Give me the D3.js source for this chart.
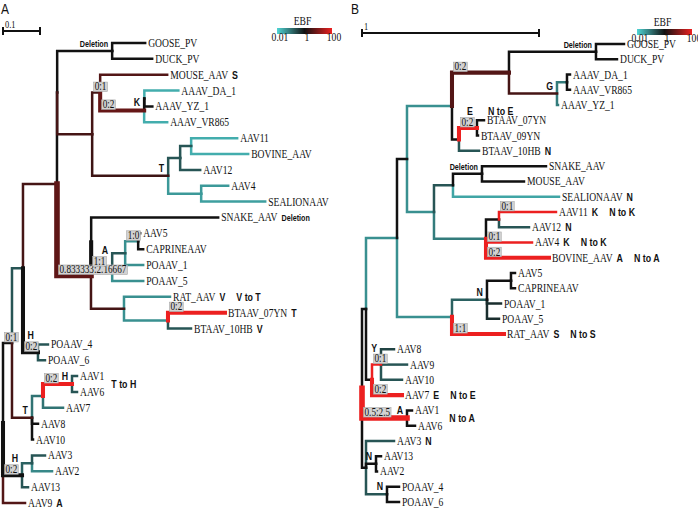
<!DOCTYPE html>
<html>
<head>
<meta charset="utf-8">
<script src="https://cdn.jsdelivr.net/npm/d3@7/dist/d3.min.js"></script>
<style>
body { margin: 0; background: #fff; }
svg { display: block; }
</style>
</head>
<body>
<script>
// tree A : [node, parent, branch length, EBF]
var treeA = [
    ["rootA", "", 0, 1],
    ["L1", "rootA", 0.0243, 1],
    ["N23", "L1", 0.0297, 0.2],
    ["X", "N23", 0.0919, 3],
    ["X3", "X", 0.0005, 1],
    ["gooseA", "X3", 0.1486, 1],
    ["GOOSE_PV", "gooseA", 0.0892, 1],
    ["DUCK_PV", "gooseA", 0.1081, 1],
    ["nA92", "X3", 0.0946, 3],
    ["M", "nA92", 0.0216, 3],
    ["MOUSE_AAV", "M", 0.1811, 4],
    ["K", "M", 0.1189, 6],
    ["K2", "K", 0.0005, 1],
    ["AAAV_DA_1", "K2", 0.0919, 0.025],
    ["AAAV_YZ_1", "K2", 0.0216, 1],
    ["AAAV_VR865", "K", 0.0622, 0.025],
    ["TA", "nA92", 0.2054, 2.5],
    ["nA180", "TA", 0.0324, 0.2],
    ["nA191", "nA180", 0.0297, 0.2],
    ["AAV11", "nA191", 0.1243, 0.025],
    ["BOVINE_AAV", "nA191", 0.1541, 0.025],
    ["AAV12", "nA180", 0.0541, 0.2],
    ["nA201", "TA", 0.0892, 0.04],
    ["AAV4", "nA201", 0.073, 0.04],
    ["SEALIONAAV", "nA201", 0.173, 0.035],
    ["nA91", "X", 0.0919, 5],
    ["nA91c", "nA91", 0.0005, 1],
    ["SNAKE_AAV", "nA91c", 0.3432, 1],
    ["cladeA", "nA91c", 0.0568, 1],
    ["nA125", "cladeA", 0.0351, 0.2],
    ["nA138", "nA125", 0.0351, 0.05],
    ["AAV5", "nA138", 0.0054, 1],
    ["CAPRINEAAV", "nA138", 0.0135, 1],
    ["POAAV_1", "nA125", 0.0486, 0.05],
    ["POAAV_5", "cladeA", 0.0838, 0.05],
    ["nA124", "nA91", 0.0892, 3],
    ["RAT_AAV", "nA124", 0.1243, 0.05],
    ["nA168", "nA124", 0.1189, 0.05],
    ["BTAAV_07YN", "nA168", 0.1541, 100],
    ["BTAAV_10HB", "nA168", 0.0622, 0.2],
    ["nA38", "N23", 0.0405, 1],
    ["POAAV_4", "nA38", 0.027, 0.2],
    ["POAAV_6", "nA38", 0.0189, 0.2],
    ["TL", "L1", 0.0541, 3],
    ["nA43", "TL", 0.0297, 0.1],
    ["nA72", "nA43", 0.0784, 100],
    ["AAV1", "nA72", 0.0135, 0.2],
    ["AAV6", "nA72", 0.0135, 0.2],
    ["AAV7", "nA43", 0.0541, 0.1],
    ["AAV8", "TL", 0.0162, 1],
    ["AAV10", "TL", 0.0027, 1],
    ["HA", "rootA", 0.0514, 1],
    ["nA32", "HA", 0.027, 0.15],
    ["AAV3", "nA32", 0.0351, 0.2],
    ["AAV2", "nA32", 0.0541, 0.06],
    ["AAV13", "HA", 0.0162, 0.2],
    ["AAV9", "rootA", 0.0595, 4]
];

// branch boxes (a:b counts) for tree A
var boxesA = [["L1", "0:1"], ["M", "0:1"], ["K", "0:2"], ["nA91", "0.833333:2.16667"],
    ["cladeA", "1:1"], ["nA138", "1:0"], ["BTAAV_07YN", "0:2"], ["nA38", "0:2"],
    ["nA72", "0:2"], ["HA", "0:2"]];
var cladeTagsA = [["gooseA", "Deletion"], ["K", "K"], ["TA", "T"], ["cladeA", "A"],
    ["nA38", "H"], ["nA72", "H"], ["TL", "T"], ["HA", "H"]];
var tipTagsA = [["MOUSE_AAV", "S"], ["SNAKE_AAV", "Deletion"], ["RAT_AAV", "V"],
    ["BTAAV_07YN", "T"], ["BTAAV_10HB", "V"], ["AAV9", "A"]];
var changeTagsA = [["RAT_AAV", "V to T", "tip"], ["nA72", "T to H", "side"]];

// tree B : [node, parent, branch length, EBF]
var treeB = [
    ["rootB", "", 0, 1],
    ["nB366", "rootB", 0.0226, 1],
    ["nB397", "nB366", 0.1751, 0.05],
    ["nB407", "nB397", 0.0565, 1],
    ["nB452", "nB407", 0.2542, 0.05],
    ["nB509", "nB452", 0.322, 4],
    ["gooseB", "nB509", 0.4915, 1],
    ["GOOSE_PV", "gooseB", 0.1582, 1],
    ["DUCK_PV", "gooseB", 0.1186, 1],
    ["GB", "nB509", 0.2712, 3],
    ["nB567", "GB", 0.0565, 0.08],
    ["AAAV_DA_1", "nB567", 0.0169, 1],
    ["AAAV_VR865", "nB567", 0.0169, 1],
    ["AAAV_YZ_1", "GB", 0.0056, 0.08],
    ["EB", "nB452", 0.0395, 1],
    ["nB477", "EB", 0.1017, 100],
    ["BTAAV_07YN", "nB477", 0.0395, 1],
    ["BTAAV_09YN", "nB477", 0.0056, 1],
    ["BTAAV_10HB", "EB", 0.113, 0.2],
    ["nB434", "nB407", 0.1525, 0.05],
    ["nB453", "nB434", 0.1073, 0.2],
    ["nB482", "nB453", 0.1638, 1],
    ["SNAKE_AAV", "nB482", 0.3616, 1],
    ["MOUSE_AAV", "nB482", 0.2373, 1],
    ["SEALIONAAV", "nB453", 0.5989, 0.03],
    ["nB486", "nB434", 0.2938, 0.08],
    ["nB499", "nB486", 0.0734, 1],
    ["AAV11", "nB499", 0.322, 100],
    ["AAV12", "nB499", 0.1695, 0.2],
    ["AAV4", "nB486", 0.2599, 100],
    ["BOVINE_AAV", "nB486", 0.3559, 100],
    ["nB452b", "nB397", 0.3107, 0.05],
    ["NB", "nB452b", 0.1977, 0.15],
    ["nB511", "NB", 0.1356, 1],
    ["AAV5", "nB511", 0.0226, 1],
    ["CAPRINEAAV", "nB511", 0.0226, 1],
    ["POAAV_1", "NB", 0.0791, 0.5],
    ["POAAV_5", "NB", 0.0678, 0.5],
    ["RAT_AAV", "nB452b", 0.2938, 100],
    ["nB372", "nB366", 0.0339, 1],
    ["YB", "nB372", 0.0508, 100],
    ["AAV8", "YB", 0.0734, 0.3],
    ["AAV9", "YB", 0.1469, 0.2],
    ["AAV10", "YB", 0.1186, 0.2],
    ["AAV7", "nB372", 0.1695, 100],
    ["nB407b", "rootB", 0.2542, 100],
    ["AAV1", "nB407b", 0.0282, 1],
    ["AAV6", "nB407b", 0.0452, 1],
    ["nB366b", "rootB", 0.0226, 1],
    ["AAV3", "nB366b", 0.1582, 0.2],
    ["nB376", "nB366b", 0.0565, 1],
    ["AAV13", "nB376", 0.0282, 1],
    ["AAV2", "nB376", 0.0056, 1],
    ["nB387", "nB366b", 0.1186, 0.2],
    ["POAAV_4", "nB387", 0.0678, 1],
    ["POAAV_6", "nB387", 0.0678, 1]
];

var boxesB = [["nB509", "0:2"], ["nB477", "0:2"], ["AAV11", "0:1"], ["AAV4", "0:1"],
    ["BOVINE_AAV", "0:2"], ["RAT_AAV", "1:1"], ["YB", "0:1"], ["AAV7", "0:2"],
    ["nB407b", "0.5:2.5"]];
var cladeTagsB = [["gooseB", "Deletion"], ["GB", "G"], ["nB482", "Deletion"], ["nB477", "E"],
    ["NB", "N"], ["YB", "Y"], ["nB407b", "A"], ["nB376", "N"], ["nB387", "N"]];
var tipTagsB = [["BTAAV_10HB", "N"], ["SEALIONAAV", "N"], ["AAV11", "K"], ["AAV12", "N"],
    ["AAV4", "K"], ["BOVINE_AAV", "A"], ["RAT_AAV", "S"], ["AAV7", "E"], ["AAV3", "N"]];
var changeTagsB = [["nB477", "N to E", "head"], ["AAV11", "N to K", "tip"], ["AAV4", "N to K", "tip"],
    ["BOVINE_AAV", "N to A", "tip"], ["RAT_AAV", "N to S", "tip"], ["AAV7", "N to E", "tip"],
    ["nB407b", "N to A", "side"]];

// legend ticks for EBF
var ebfTicks = [0.01, 1, 100];
var ebfTickLabels = ["0.01", "1", "100"];

var width = 698, height = 508;
var SX = 0.8; // text in the figure is squeezed sideways

var svg = d3.select("body").append("svg")
    .attr("width", width)
    .attr("height", height);
svg.append("rect").attr("width", width).attr("height", height).attr("fill", "#fff");

var ebfColor = d3.scaleLog()
    .domain([0.01, 1, 100])
    .range(["#4fd4d4", "#111111", "#ec2020"])
    .clamp(true);

// wider branch for more changes on it
var widthScale = d3.scaleLinear().domain([1, 3]).range([2.5, 5.6]).clamp(true);

var serif = "'Liberation Serif', 'Times New Roman', serif";
var sans = "'Liberation Sans', Arial, sans-serif";

// text helper, returns drawn width
function addText(g, x, y, str, font, size, weight, anchor) {
    var t = g.append("text")
        .attr("transform", "translate(" + x + "," + y + ") scale(" + SX + ",1)")
        .attr("font-family", font)
        .attr("font-size", size)
        .attr("font-weight", weight || "normal")
        .attr("text-anchor", anchor || "start")
        .attr("fill", "#111")
        .text(str);
    return t.node().getComputedTextLength() * SX;
}

// width only, nothing left on the page
function measure(str, font, size, weight) {
    var t = svg.append("text")
        .attr("font-family", font)
        .attr("font-size", size)
        .attr("font-weight", weight || "normal")
        .text(str);
    var w = t.node().getComputedTextLength() * SX;
    t.remove();
    return w;
}

function drawTree(rows, boxList, cladeTags, tipTags, changeTags, xRange, yRange) {
    var root = d3.stratify()
        .id(function(d) { return d[0]; })
        .parentId(function(d) { return d[1] || null; })(rows);

    var xScale = d3.scaleLinear().domain([0, 1]).range(xRange);
    root.eachBefore(function(n) {
        n.dist = n.parent ? n.parent.dist + n.data[2] : 0;
        n.px = xScale(n.dist);
    });
    var yScale = d3.scalePoint()
        .domain(root.leaves().map(function(d) { return d.id; }))
        .range(yRange);
    root.eachAfter(function(n) {
        if (n.children) {
            n.py = (n.children[0].py + n.children[n.children.length - 1].py) / 2;
        } else {
            n.py = yScale(n.id);
        }
    });

    var byId = new Map(root.descendants().map(function(n) { return [n.id, n]; }));
    var boxes = new Map(boxList);
    function total(s) { return d3.sum(s.split(":"), Number); }

    var g = svg.append("g");

    var links = root.descendants().filter(function(n) { return n.parent; })
        .map(function(n) {
            return { n: n, w: boxes.has(n.id) ? widthScale(total(boxes.get(n.id))) : widthScale(1) };
        })
        .sort(function(a, b) { return a.w - b.w || a.n.data[3] - b.n.data[3]; });

    g.selectAll("path.branch")
        .data(links)
        .enter()
        .append("path")
        .attr("class", "branch")
        .attr("d", function(d) {
            return "M" + d.n.parent.px + "," + d.n.parent.py + "V" + d.n.py + "H" + d.n.px;
        })
        .attr("fill", "none")
        .attr("stroke", function(d) { return ebfColor(d.n.data[3]); })
        .attr("stroke-width", function(d) { return d.w; })
        .attr("stroke-linecap", "square");

    // tip labels
    var labelEnd = new Map();
    root.leaves().forEach(function(n) {
        var w = addText(g, n.px + 3, n.py + 4, n.id, serif, 12);
        labelEnd.set(n.id, n.px + 3 + w);
    });

    // gray boxes with the change counts
    var boxRight = new Map();
    boxList.forEach(function(b) {
        var n = byId.get(b[0]);
        var bx = n.parent.px + 1.5;
        var rect = g.append("rect")
            .attr("y", n.py - 10.5)
            .attr("height", 9.5)
            .attr("x", bx)
            .attr("fill", "#d2d2d2")
            .attr("stroke", "#a8a8a8")
            .attr("stroke-width", 0.6);
        var w = addText(g, bx + 1, n.py - 2.2, b[1], serif, 11.5);
        rect.attr("width", w + 2);
        boxRight.set(b[0], bx + w + 2);
    });

    // bold letters on clades
    var cladeEnd = new Map();
    cladeTags.forEach(function(c) {
        var n = byId.get(c[0]);
        var size = c[1].length > 2 ? 9 : 11;
        var w = measure(c[1], sans, size, "bold");
        var xEnd = n.px - 4;
        var lift = 4;
        if (boxRight.has(c[0]) && boxRight.get(c[0]) > xEnd - w) { lift = 13; }
        addText(g, xEnd, n.py - lift, c[1], sans, size, "bold", "end");
        cladeEnd.set(c[0], [xEnd, n.py - lift]);
    });

    // bold letters after tips
    var tagEnd = new Map(labelEnd);
    tipTags.forEach(function(t) {
        var n = byId.get(t[0]);
        var size = t[1].length > 2 ? 9 : 11;
        var x0 = labelEnd.get(t[0]) + 4;
        var w = addText(g, x0, n.py + 4, t[1], sans, size, "bold");
        tagEnd.set(t[0], x0 + w);
    });

    // residue change notes
    changeTags.forEach(function(c) {
        var n = byId.get(c[0]);
        if (c[2] === "tip") {
            addText(g, tagEnd.get(c[0]) + 11, n.py + 4, c[1], sans, 11, "bold");
        } else if (c[2] === "side") {
            var xm = d3.max(n.leaves(), function(l) { return tagEnd.get(l.id); });
            addText(g, xm + 7, n.py + 4, c[1], sans, 11, "bold");
        } else {
            var ce = cladeEnd.get(c[0]);
            addText(g, ce[0] + 15, ce[1], c[1], sans, 11, "bold");
        }
    });

    return xScale;
}

function drawLegend(x0, y0) {
    var barW = 55, barH = 6;
    var id = "ebf" + x0;
    var grad = svg.append("defs").append("linearGradient").attr("id", id);
    var lx = d3.scaleLog().domain([0.01, 100]).range([0, 1]);
    d3.range(0, 1.0001, 0.05).forEach(function(t) {
        grad.append("stop")
            .attr("offset", t)
            .attr("stop-color", ebfColor(lx.invert(t)));
    });
    var g = svg.append("g");
    g.append("rect")
        .attr("x", x0).attr("y", y0)
        .attr("width", barW).attr("height", barH)
        .attr("fill", "url(#" + id + ")");
    var tx = d3.scaleLog().domain([0.01, 100]).range([x0 + 3, x0 + barW + 2]);
    addText(g, x0 + barW / 2 - 2, y0 - 3, "EBF", serif, 12, "normal", "middle");
    ebfTicks.forEach(function(v, i) {
        addText(g, tx(v), y0 + 13, ebfTickLabels[i], serif, 12, "normal", "middle");
    });
}

function drawScaleBar(x0, y0, len, label) {
    var g = svg.append("g");
    g.append("path")
        .attr("d", "M" + x0 + "," + (y0 - 4) + "V" + (y0 + 4) + "M" + x0 + "," + y0 + "H" + (x0 + len) +
            "M" + (x0 + len) + "," + (y0 - 4) + "V" + (y0 + 4))
        .attr("fill", "none")
        .attr("stroke", "#111")
        .attr("stroke-width", 2);
    addText(g, x0 + 2, y0 - 3, label, serif, 10.5);
}

// PART A
var xA = drawTree(treeA, boxesA, cladeTagsA, tipTagsA, changeTagsA, [3, 373], [43, 503]);
drawScaleBar(3, 31, xA(0.1) - xA(0), "0.1");
drawLegend(277, 28);
addText(svg, 1, 14, "A", sans, 15);

// PART B
var xB = drawTree(treeB, boxesB, cladeTagsB, tipTagsB, changeTagsB, [362, 539], [44, 502]);
drawScaleBar(362, 33, xB(1) - xB(0), "1");
drawLegend(637, 29);
addText(svg, 351, 14, "B", sans, 15);
</script>
</body>
</html>
